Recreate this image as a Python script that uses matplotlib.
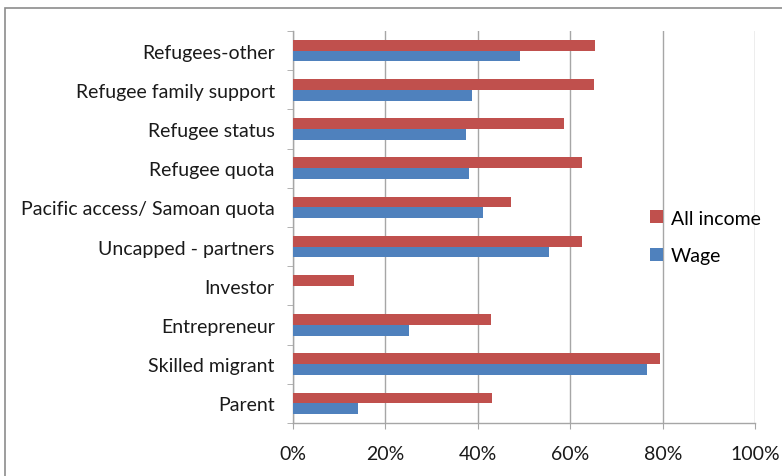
import numpy as np
import matplotlib.pyplot as plt
from matplotlib.patches import Rectangle

# ================= DATA ================= #
categories = ["Parent", "Skilled migrant", "Entrepreneur", "Investor",
              "Uncapped - partners", "Pacific access/ Samoan quota",
              "Refugee quota", "Refugee status", "Refugee family support",
              "Refugees-other"]
all_income = [43.0, 79.5, 42.8, 13.2, 62.6, 47.1, 62.6, 58.6, 65.1, 65.3]
wage = [14.1, 76.5, 25.2, 0.0, 55.4, 41.2, 38.1, 37.4, 38.8, 49.1]
xticks = [0, 20, 40, 60, 80, 100]

RED = "#c0504d"
BLUE = "#4f81bd"
GRID = "#a6a6a6"

plt.rcParams["font.family"] = ["Lato", "DejaVu Sans"]

# ================= PLOT ================= #
fig = plt.figure(figsize=(7.82, 4.77), dpi=100)
ax = fig.add_axes([292.7 / 782, 1 - 424 / 477, (755.3 - 292.7) / 782, (424 - 32) / 477])

y = np.arange(len(categories))
h = 0.275
ax.barh(y + h / 2, all_income, height=h, color=RED, label="All income", zorder=3)
ax.barh(y - h / 2, wage, height=h, color=BLUE, label="Wage", zorder=3)

ax.set_xlim(0, 100)
ax.set_ylim(-0.5, len(categories) - 0.5)
ax.set_xticks(xticks)
ax.set_xticklabels([f"{v}%" for v in xticks])
ax.set_yticks(y)
ax.set_yticklabels(categories)
ax.set_yticks(np.arange(len(categories) + 1) - 0.5, minor=True)

ax.grid(axis="x", color=GRID, linewidth=1, zorder=0)
for s in ["top", "right"]:
    ax.spines[s].set_visible(False)
for s in ["left", "bottom"]:
    ax.spines[s].set_color(GRID)
    ax.spines[s].set_linewidth(1)

ax.tick_params(axis="y", which="major", length=0, labelsize=14, pad=13, labelcolor="#1a1a1a")
ax.tick_params(axis="y", which="minor", length=4, color=GRID)
ax.tick_params(axis="x", length=4, color=GRID, labelsize=14, pad=12, labelcolor="#1a1a1a")

ax.legend(loc="center left", bbox_to_anchor=(0.735, 0.475), frameon=False,
          fontsize=14, handlelength=0.65, handleheight=0.65, handletextpad=0.4,
          labelspacing=1.05)

# outer chart border
fig.patches.append(Rectangle((5 / 782, -0.05), 1.0, 1 - 9 / 477 + 0.05,
                             transform=fig.transFigure, fill=False,
                             edgecolor="#8c8c8c", linewidth=1.2))

fig.savefig("out.png", dpi=100)
